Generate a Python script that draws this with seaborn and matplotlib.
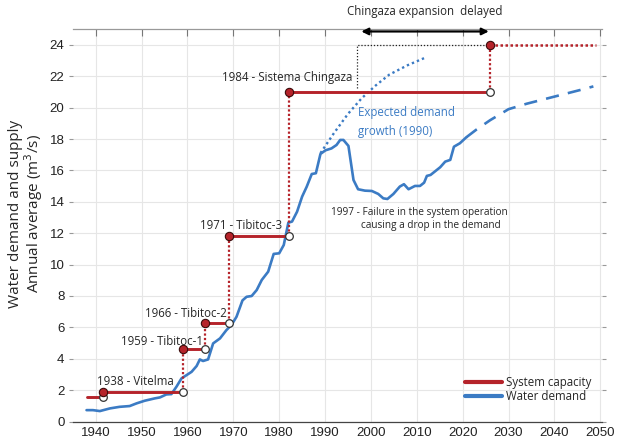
import matplotlib
matplotlib.use("Agg")
import matplotlib.pyplot as plt
import pandas as pd
import seaborn as sns

# observed water demand (m3/s), annual average
demand_year = [1938.0, 1939.4, 1940.9, 1943.1, 1945.2, 1947.4, 1948.9, 1950.7, 1952.9, 1954.0,
               1955.4, 1956.5, 1957.6, 1958.7, 1959.8, 1960.9, 1962.0, 1962.7, 1963.4, 1964.5,
               1965.6, 1967.1, 1968.5, 1969.6, 1970.7, 1972.0, 1972.9, 1974.0, 1975.1, 1976.2,
               1977.6, 1978.8, 1980.0, 1981.0, 1982.0, 1982.8, 1983.9, 1985.0, 1986.0, 1987.1,
               1988.0, 1989.0, 1990.1, 1991.4, 1992.5, 1993.3, 1994.0, 1995.1, 1996.2, 1997.2,
               1998.7, 2000.2, 2001.6, 2002.7, 2003.6, 2004.9, 2006.3, 2007.2, 2008.2, 2009.6,
               2010.7, 2011.6, 2012.2, 2013.0, 2014.2, 2015.1, 2016.2, 2017.3, 2018.1, 2019.4,
               2020.8]
demand_value = [0.73, 0.73, 0.67, 0.84, 0.94, 0.99, 1.16, 1.33, 1.48, 1.54,
                1.73, 1.75, 2.22, 2.75, 2.96, 3.17, 3.54, 3.96, 3.86, 3.96,
                4.98, 5.30, 5.83, 6.15, 6.68, 7.72, 7.95, 8.0, 8.38, 9.02,
                9.55, 10.68, 10.72, 11.25, 12.67, 12.74, 13.37, 14.33, 14.96, 15.77,
                15.82, 17.05, 17.28, 17.4, 17.62, 17.94, 17.94, 17.56, 15.39, 14.80,
                14.71, 14.69, 14.50, 14.22, 14.18, 14.50, 14.97, 15.12, 14.80, 15.01,
                15.01, 15.22, 15.65, 15.71, 15.99, 16.20, 16.56, 16.67, 17.51, 17.73,
                18.11]

# projected demand (dashed)
proj_year = [2020.8, 2023.0, 2026.0, 2030.0, 2034.0, 2038.0, 2042.0, 2046.0, 2048.5]
proj_value = [18.11, 18.6, 19.2, 19.9, 20.25, 20.55, 20.85, 21.15, 21.35]

# expected demand growth in 1990 (dotted)
exp_year = [1989.0, 1992.0, 1995.0, 1998.0, 2001.0, 2004.0, 2008.0, 2012.0]
exp_value = [17.1, 18.4, 19.6, 20.6, 21.4, 22.1, 22.7, 23.2]

# system capacity steps
cap_start = [1941.6, 1959.0, 1963.9, 1969.1, 1982.2]
cap_end = [1959.0, 1963.9, 1969.1, 1982.2, 2026.0]
cap_level = [1.9, 4.62, 6.3, 11.8, 21.0]
cap_initial = [1938.0, 1941.6, 1.55]
cap_future = [2026.0, 2049.0, 24.0]

step_labels = ["1938 - Vitelma", "1959 - Tibitoc-1", "1966 - Tibitoc-2",
               "1971 - Tibitoc-3", "1984 - Sistema Chingaza"]

red = "#b5232a"
blue = "#3b7bc4"

sns.set_style("whitegrid")
plt.rcParams["font.family"] = ["Liberation Sans", "DejaVu Sans"]
ann_font = ["Open Sans", "DejaVu Sans"]

fig = plt.figure(figsize=(6.22, 4.41), dpi=100)
ax = fig.add_axes([0.117, 0.044, 0.851, 0.89])

demand = pd.DataFrame({"year": demand_year, "value": demand_value})
sns.lineplot(data=demand, x="year", y="value", color=blue, linewidth=1.9, ax=ax, zorder=3)
ax.plot(proj_year, proj_value, color=blue, linewidth=1.9, dashes=(5, 3.5), zorder=3)
ax.plot(exp_year, exp_value, color=blue, linewidth=1.7, linestyle=(0, (1, 1.3)), zorder=3)

# capacity
ax.plot(cap_initial[:2], [cap_initial[2]] * 2, color=red, linewidth=2.1, zorder=4)
ax.plot(cap_initial[1], cap_initial[2], "o", ms=5.5, mfc="white", mec="#333333", mew=0.9, zorder=6)
prev_x, prev_y = cap_initial[1], cap_initial[2]
for x0, x1, lev in zip(cap_start, cap_end, cap_level):
    ax.plot([prev_x, x0], [prev_y, lev], color=red, linewidth=1.6, linestyle=(0, (1, 1)), zorder=4)
    ax.plot([x0, x1], [lev, lev], color=red, linewidth=2.1, zorder=4)
    ax.plot(x0, lev, "o", ms=6, mfc=red, mec="#3a0a0a", mew=0.8, zorder=6)
    ax.plot(x1, lev, "o", ms=5.5, mfc="white", mec="#333333", mew=0.9, zorder=6)
    prev_x, prev_y = x1, lev
ax.plot([prev_x, cap_future[0]], [prev_y, cap_future[2]], color=red, linewidth=1.6,
        linestyle=(0, (1, 1)), zorder=4)
ax.plot(cap_future[:2], [cap_future[2]] * 2, color=red, linewidth=1.8,
        linestyle=(0, (1, 1)), zorder=4)
ax.plot(cap_future[0], cap_future[2], "o", ms=6, mfc=red, mec="#3a0a0a", mew=0.8, zorder=6)

# delayed expansion
ax.plot([1997.0, 1997.0, 2026.0], [21.25, 24.0, 24.0], color="#222222", linewidth=0.9,
        linestyle=(0, (1, 1.5)), zorder=4)
ax.annotate("", xy=(1997.3, 24.85), xytext=(2026.3, 24.85),
            arrowprops=dict(arrowstyle="<|-|>", color="black", lw=1.6, mutation_scale=10),
            annotation_clip=False, zorder=7)
ax.text(2011.8, 26.15, "Chingaza expansion  delayed", ha="center", va="center",
        fontsize=8.3, family=ann_font, clip_on=False)

# labels of the capacity steps
label_pos = [(1940.2, 2.54, "left"), (1963.4, 5.09, "right"), (1968.5, 6.9, "right"),
             (1980.7, 12.46, "right"), (1995.9, 21.9, "right")]
for (lx, ly, ha), txt in zip(label_pos, step_labels):
    ax.text(lx, ly, txt, ha=ha, va="center", fontsize=8.3, family=ann_font, zorder=8)

ax.text(1997.2, 19.66, "Expected demand", color=blue, fontsize=8.3, family=ann_font, va="center")
ax.text(1997.2, 18.45, "growth (1990)", color=blue, fontsize=8.3, family=ann_font, va="center")
ax.text(1991.2, 13.31, "1997 - Failure in the system operation", fontsize=7.2,
        family=ann_font, va="center")
ax.text(1997.8, 12.46, "causing a drop in the demand", fontsize=7.2,
        family=ann_font, va="center")

# legend
ax.plot([], [], color=red, linewidth=3, label="System capacity")
ax.plot([], [], color=blue, linewidth=3, label="Water demand")
leg = ax.legend(loc="lower right", bbox_to_anchor=(1.0, 0.02), frameon=False,
                prop={"family": ann_font, "size": 8.3}, handlelength=3.2,
                handletextpad=0.4, labelspacing=0.15)

ax.set_xlim(1935, 2050.4)
ax.set_ylim(0, 25)
ax.set_xticks(range(1940, 2051, 10))
ax.set_yticks(range(0, 25, 2))
ax.set_xlabel("")
ax.set_ylabel("Water demand and supply\nAnnual average (m$^3$/s)", fontsize=11,
              family=ann_font, linespacing=1.0)
ax.yaxis.set_label_coords(-0.052, 0.53)
ax.grid(True, color="#e6e6e6", linewidth=0.8)
ax.tick_params(axis="both", labelsize=9.5, colors="#222222")
ax.tick_params(axis="y", left=True, length=3, color="#999999", pad=3)
ax.tick_params(axis="x", bottom=False, top=True, direction="in", length=5, color="#777777", pad=4)
ax.tick_params(axis="y", right=True, direction="in", which="both")
ax.tick_params(axis="y", left=True, direction="out")
ax.spines["left"].set_visible(False)
ax.spines["right"].set_visible(False)
ax.spines["top"].set_color("#999999")
ax.spines["bottom"].set_color("#444444")
ax.spines["top"].set_linewidth(0.9)
ax.spines["bottom"].set_linewidth(0.9)

plt.savefig("out.png", dpi=100)
plt.close()
